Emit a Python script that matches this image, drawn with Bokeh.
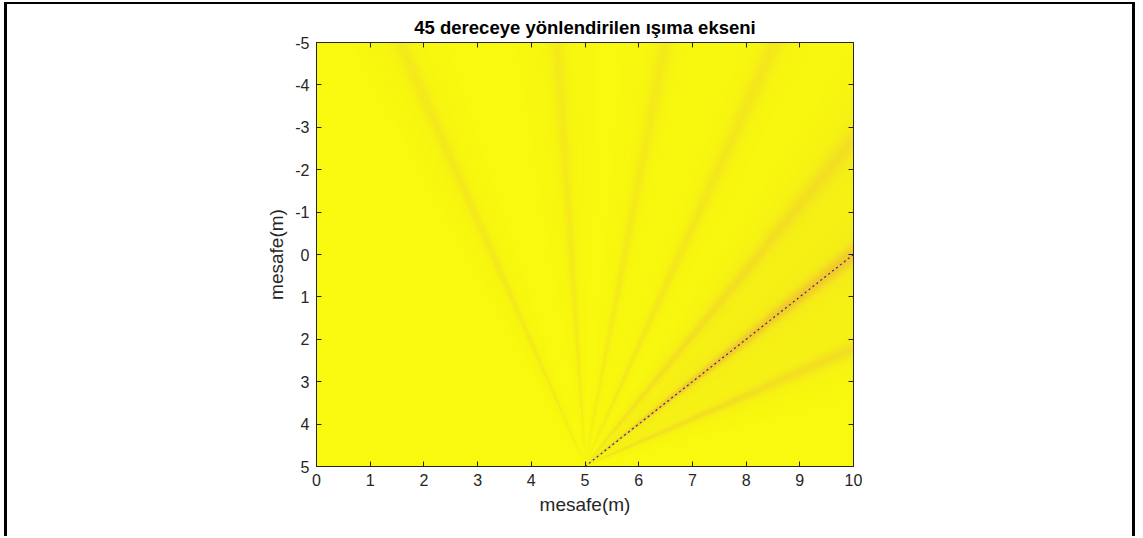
import numpy as np
from bokeh.plotting import figure
from bokeh.models import Range1d, LinearAxis, FixedTicker, LinearColorMapper
from bokeh.embed import file_html
from bokeh.resources import INLINE

# ---- labels and ticks ----
title_text = "45 dereceye yönlendirilen ışıma ekseni"
x_label = "mesafe(m)"
y_label = "mesafe(m)"
x_ticks = [0, 1, 2, 3, 4, 5, 6, 7, 8, 9, 10]
y_ticks = [-5, -4, -3, -2, -1, 0, 1, 2, 3, 4, 5]

# ---- array position and steering ----
source_x = 5.0
source_y = 5.0
steer_deg = 45.0
beam_x = [5.0, 10.0]
beam_y = [5.0, 0.0]

# ---- pattern minima (degrees from the +y-up direction, clockwise) ----
null_angles_deg = [-19.0, -3.0, 8.5, 19.5, 33.0, 61.0]
null_depths = [0.16, 0.15, 0.15, 0.17, 0.20, 0.22]
null_widths_deg = [0.55, 0.55, 0.6, 0.7, 0.9, 1.2]
null_halo_depths = [0.05, 0.04, 0.04, 0.05, 0.06, 0.07]
null_halo_widths_deg = [2.0, 2.0, 2.0, 2.5, 3.0, 4.0]

# main lobe
beam_core_depth = 0.40
beam_core_width_deg = 1.1
beam_halo_depth = 0.14
beam_halo_width_deg = 9.0

# ---- sampled field ----
nx, ny = 540, 424
xs = np.linspace(0, 10, nx)
ys = np.linspace(-5, 5, ny)
X, Y = np.meshgrid(xs, ys)
phi = np.degrees(np.arctan2(X - source_x, source_y - Y))

field = np.ones_like(X)
for a, d, w, hd, hw in zip(null_angles_deg, null_depths, null_widths_deg,
                           null_halo_depths, null_halo_widths_deg):
    field -= d * np.exp(-0.5 * ((phi - a) / w) ** 2)
    field -= hd * np.exp(-0.5 * ((phi - a) / hw) ** 2)
field -= beam_core_depth * np.exp(-0.5 * ((phi - steer_deg) / beam_core_width_deg) ** 2)
field -= beam_halo_depth * np.exp(-0.5 * ((phi - steer_deg) / beam_halo_width_deg) ** 2)
field = np.clip(field, 0, 1)

# upper end of a parula-like map: orange -> yellow
stops_t = [0.0, 0.25, 0.5, 0.75, 1.0]
stops_rgb = [(250, 160, 60), (246, 182, 52), (242, 205, 42), (244, 230, 30), (248, 249, 14)]
palette = []
for t in np.linspace(0, 1, 256):
    r = np.interp(t, stops_t, [c[0] for c in stops_rgb])
    g = np.interp(t, stops_t, [c[1] for c in stops_rgb])
    b = np.interp(t, stops_t, [c[2] for c in stops_rgb])
    palette.append("#%02x%02x%02x" % (int(r), int(g), int(b)))
mapper = LinearColorMapper(palette=palette, low=0.0, high=1.0)

FONT = "Liberation Sans"
INK = "#262626"

p = figure(
    width=1131, height=534,
    x_range=Range1d(0, 10), y_range=Range1d(5, -5),
    output_backend="svg", toolbar_location=None,
    min_border_left=309, min_border_right=285,
    min_border_top=38, min_border_bottom=72,
    background_fill_color="white", border_fill_color="white",
)
p.styles = {
    "border-left": "3px solid #000",
    "border-top": "2px solid #000",
    "border-right": "3px solid #000",
    "margin-left": "4px",
    "margin-top": "2px",
}

p.image(image=[field], x=0, y=-5, dw=10, dh=10, color_mapper=mapper)
p.line(beam_x, beam_y, line_color="#3a2a70", line_width=1.2, line_dash="2 3")

p.title.text = title_text
p.title.align = "center"
p.title.text_font = FONT
p.title.text_font_size = "18.5px"
p.title.text_font_style = "bold"
p.title.text_color = "#000000"

p.xgrid.visible = False
p.ygrid.visible = False
p.outline_line_color = INK
p.outline_line_width = 1

def style_axis(ax, ticks, show_labels):
    ax.ticker = FixedTicker(ticks=ticks)
    ax.major_tick_in = 5
    ax.major_tick_out = 0
    ax.minor_tick_line_color = None
    ax.axis_line_color = INK
    ax.major_tick_line_color = INK
    if show_labels:
        ax.major_label_overrides = {t: str(t) for t in ticks}
        ax.major_label_text_font = FONT
        ax.major_label_text_font_size = "16px"
        ax.major_label_text_color = INK
        ax.major_label_standoff = 7
        ax.axis_label_text_font = FONT
        ax.axis_label_text_font_size = "19px"
        ax.axis_label_text_font_style = "normal"
        ax.axis_label_text_color = INK
    else:
        ax.major_label_text_font_size = "0px"
        ax.major_label_text_color = None
        ax.major_label_standoff = 0

style_axis(p.xaxis[0], x_ticks, True)
style_axis(p.yaxis[0], y_ticks, True)
p.xaxis[0].axis_label = x_label
p.yaxis[0].axis_label = y_label
p.xaxis[0].axis_label_standoff = 5
p.yaxis[0].axis_label_standoff = 5

top_axis = LinearAxis()
style_axis(top_axis, x_ticks, False)
p.add_layout(top_axis, "above")
right_axis = LinearAxis()
style_axis(right_axis, y_ticks, False)
p.add_layout(right_axis, "right")

open("out.html", "w").write(file_html(p, INLINE))
